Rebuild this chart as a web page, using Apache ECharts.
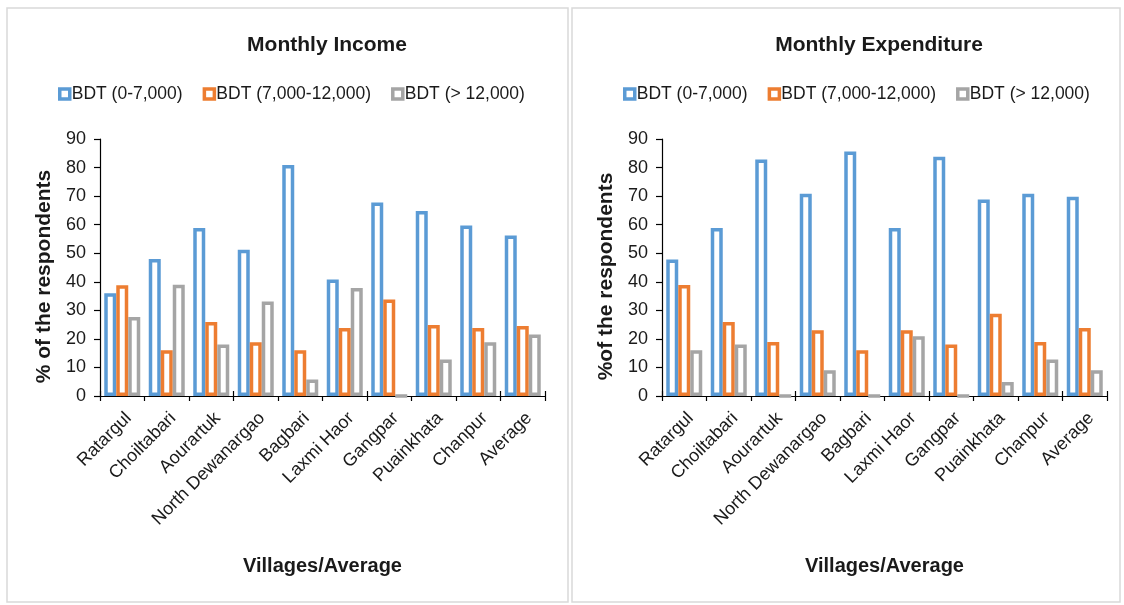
<!DOCTYPE html>
<html>
<head>
<meta charset="utf-8">
<script src="https://cdn.jsdelivr.net/npm/echarts@6/dist/echarts.min.js"></script>
<style>
  html, body { margin: 0; padding: 0; background: #ffffff; }
  #chart { width: 1124px; height: 605px; }
</style>
</head>
<body>
<div id="chart"></div>
<script>
// Villages surveyed, plus the overall average
const villages = ['Ratargul', 'Choiltabari', 'Aourartuk', 'North Dewanargao', 'Bagbari',
                  'Laxmi Haor', 'Gangpar', 'Puainkhata', 'Chanpur', 'Average'];

// Income groups (share of respondents, %)
const incomeLow  = [36.0, 48.0, 58.8, 51.2, 80.9, 40.8, 67.8, 64.8, 59.7, 56.2];
const incomeMid  = [38.8, 16.0, 25.9, 18.8, 16.0, 23.8, 33.8, 24.9, 23.8, 24.5];
const incomeHigh = [27.7, 39.0, 18.0, 33.1, 5.8, 37.8, 0, 12.8, 18.8, 21.5];

// Expenditure groups (share of respondents, %)
const expLow  = [47.8, 58.8, 82.8, 70.8, 85.6, 58.8, 83.8, 68.8, 70.8, 69.8];
const expMid  = [38.9, 25.9, 18.9, 23.0, 16.0, 23.0, 18.0, 28.8, 18.9, 23.8];
const expHigh = [16.0, 18.0, 0, 9.0, 0, 20.9, 0, 4.9, 12.8, 9.0];

const groupNames = ['BDT (0-7,000)', 'BDT (7,000-12,000)', 'BDT (> 12,000)'];
const groupColors = ['#5B9BD5', '#ED7D31', '#A5A5A5'];

const yTicks = { min: 0, max: 90, interval: 10 };

const FONT = 'Liberation Sans, Arial, sans-serif';
const TEXT = '#1a1a1a';

function outlineStyle(i, w) {
  return { color: '#ffffff', borderColor: groupColors[i], borderWidth: w };
}

function barSeries(data, i, gridIdx) {
  return {
    type: 'bar',
    name: groupNames[i],
    xAxisIndex: gridIdx,
    yAxisIndex: gridIdx,
    data: data,
    barWidth: 12,
    barGap: '0%',
    itemStyle: outlineStyle(i, 3.5),
    emphasis: { disabled: true },
    animation: false
  };
}

function legendFor(left) {
  return {
    left: left,
    top: 80,
    itemWidth: 10,
    itemHeight: 10,
    itemGap: 20,
    icon: 'rect',
    textStyle: { fontFamily: FONT, fontSize: 17.5, color: TEXT, padding: [0, 0, 0, -3] },
    data: groupNames.map((n, i) => ({ name: n, itemStyle: outlineStyle(i, 3.5) }))
  };
}

function xAxisFor(gridIdx) {
  return {
    gridIndex: gridIdx,
    type: 'category',
    data: villages,
    axisLine: { lineStyle: { color: '#000000', width: 1.2 } },
    axisTick: { show: true, length: 5, lineStyle: { color: '#000000', width: 1.2 } },
    axisLabel: {
      interval: 0, rotate: 45, margin: 13, verticalAlign: 'top',
      fontFamily: FONT, fontSize: 18, color: TEXT
    },
    name: 'Villages/Average',
    nameLocation: 'middle',
    nameGap: 160,
    nameTextStyle: { fontFamily: FONT, fontSize: 20, fontWeight: 'bold', color: TEXT }
  };
}

// Upper half of the crossing category ticks
function xTickOverlay(gridIdx) {
  return {
    gridIndex: gridIdx,
    type: 'category',
    position: 'bottom',
    data: villages,
    axisLine: { show: false },
    axisTick: { show: true, inside: true, length: 5, lineStyle: { color: '#000000', width: 1.2 } },
    axisLabel: { show: false }
  };
}

function yAxisFor(gridIdx, title) {
  return {
    gridIndex: gridIdx,
    type: 'value',
    min: yTicks.min, max: yTicks.max, interval: yTicks.interval,
    axisLine: { show: true, lineStyle: { color: '#000000', width: 1.2 } },
    axisTick: { show: true, length: 6, lineStyle: { color: '#000000', width: 1.2 } },
    splitLine: { show: false },
    axisLabel: { fontFamily: FONT, fontSize: 18, color: TEXT, margin: 14 },
    name: title,
    nameLocation: 'middle',
    nameGap: 45,
    nameTextStyle: { fontFamily: FONT, fontSize: 21, fontWeight: 'bold', color: TEXT,
                     padding: [0, 18, 0, 0] }
  };
}

const chart = echarts.init(document.getElementById('chart'), null, { renderer: 'canvas' });

chart.setOption({
  backgroundColor: '#ffffff',
  animation: false,
  graphic: [
    { type: 'rect', shape: { x: 7, y: 8, width: 561, height: 594 },
      style: { fill: '#ffffff', stroke: '#d9d9d9', lineWidth: 1.5 }, z: -10 },
    { type: 'rect', shape: { x: 572, y: 8, width: 548, height: 594 },
      style: { fill: '#ffffff', stroke: '#d9d9d9', lineWidth: 1.5 }, z: -10 }
  ],
  title: [
    { text: 'Monthly Income', left: 322, top: 30, textAlign: 'center',
      textStyle: { fontFamily: FONT, fontSize: 21, fontWeight: 'bold', color: TEXT } },
    { text: 'Monthly Expenditure', left: 874, top: 30, textAlign: 'center',
      textStyle: { fontFamily: FONT, fontSize: 21, fontWeight: 'bold', color: TEXT } }
  ],
  legend: [legendFor(53), legendFor(618)],
  grid: [
    { left: 100, right: 579, top: 139, bottom: 209 },
    { left: 662, right: 17, top: 139, bottom: 209 }
  ],
  xAxis: [xAxisFor(0), xAxisFor(1), xTickOverlay(0), xTickOverlay(1)],
  yAxis: [yAxisFor(0, '% of the respondents'), yAxisFor(1, '%of the respondents')],
  series: [
    barSeries(incomeLow, 0, 0),
    barSeries(incomeMid, 1, 0),
    barSeries(incomeHigh, 2, 0),
    barSeries(expLow, 0, 1),
    barSeries(expMid, 1, 1),
    barSeries(expHigh, 2, 1)
  ]
});
</script>
</body>
</html>
